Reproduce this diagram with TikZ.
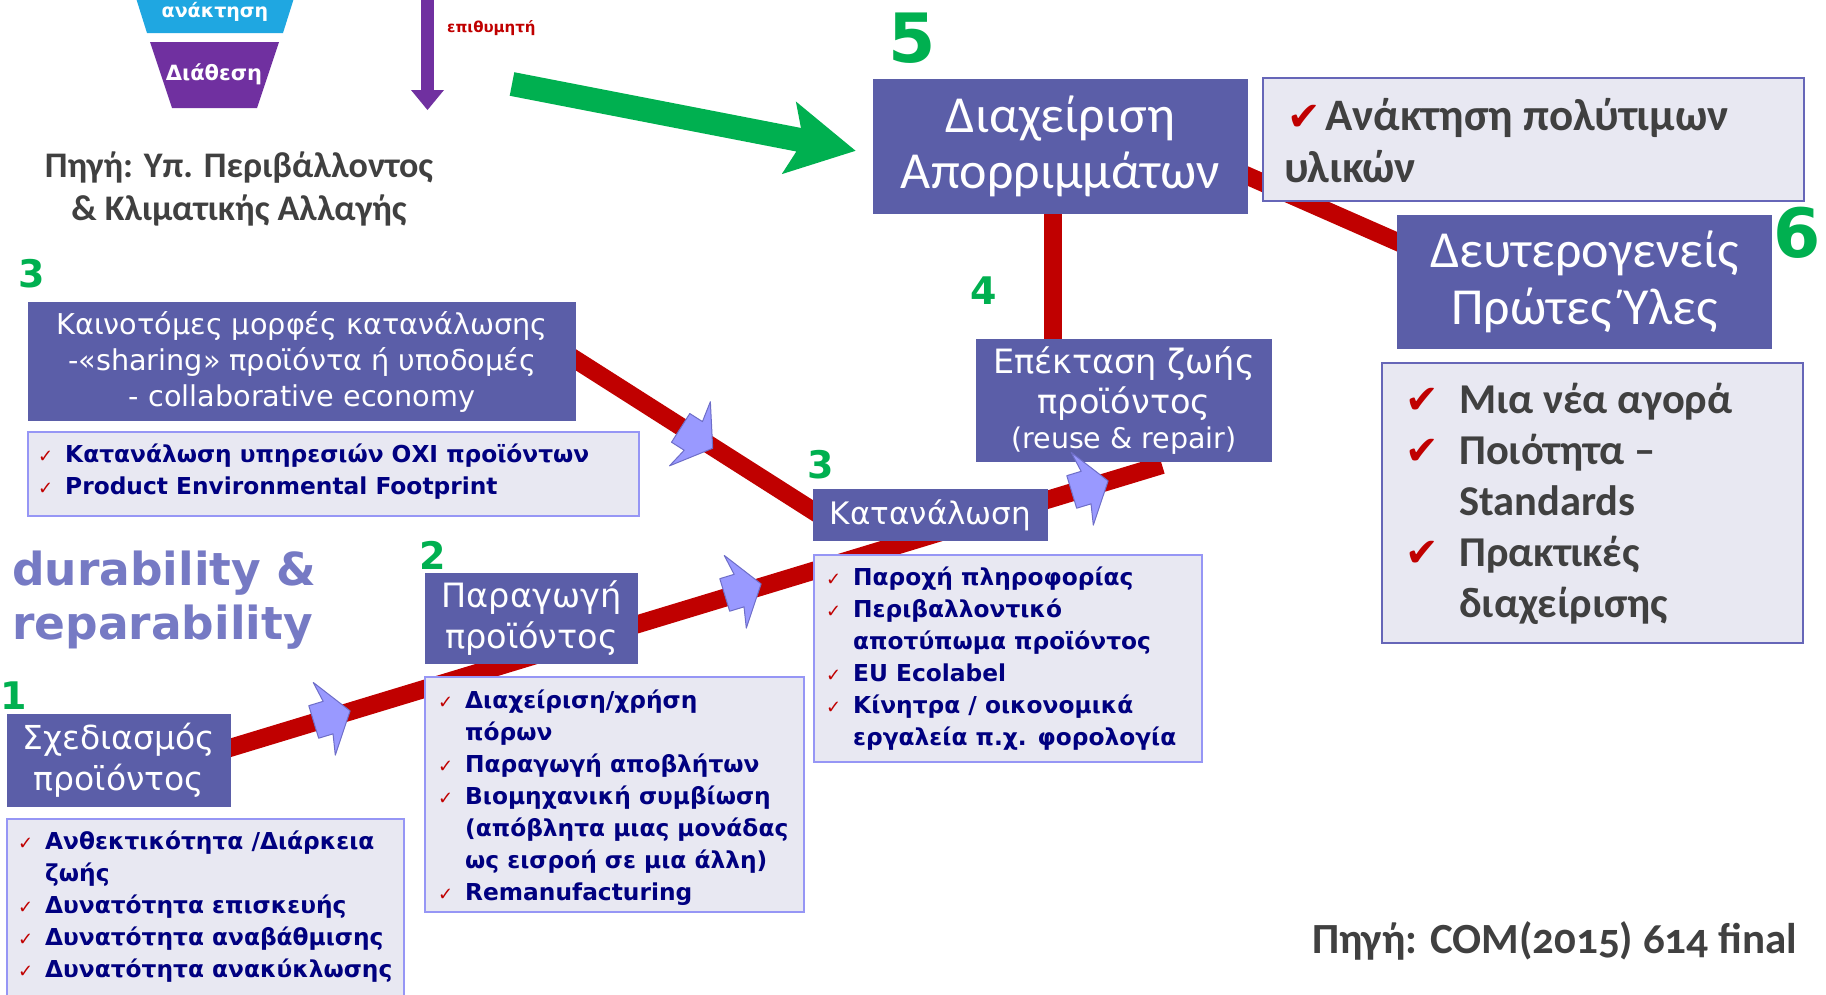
\documentclass[tikz,border=0pt]{standalone}
\usepackage{fontspec}
\setmainfont{Carlito}
\newfontfamily\csf{DejaVu Sans}
\newfontfamily\symf{DejaVu Sans}
\newfontfamily\oldf[Numbers=OldStyle]{Carlito}
\usetikzlibrary{backgrounds}
\definecolor{boxblue}{RGB}{91,94,168}
\definecolor{lav}{RGB}{232,232,242}
\definecolor{lavedge}{RGB}{150,150,245}
\definecolor{lavedgeb}{RGB}{102,102,184}
\definecolor{navy}{RGB}{0,0,128}
\definecolor{ckred}{RGB}{192,0,0}
\definecolor{lred}{RGB}{192,0,0}
\definecolor{grn}{RGB}{0,176,80}
\definecolor{peri}{RGB}{153,153,255}
\definecolor{periedge}{RGB}{110,110,200}
\definecolor{dgray}{RGB}{64,64,64}
\definecolor{durc}{RGB}{118,122,196}
\definecolor{skyb}{RGB}{31,167,225}
\definecolor{purp}{RGB}{112,48,160}
\newcommand{\lsa}{\rule[-9pt]{0pt}{32pt}}
\newcommand{\ckm}{\lsa\makebox[27pt][l]{\textcolor{ckred}{\symf\mdseries\fontsize{18}{18}\selectfont ✓}}}
\newcommand{\lind}{\lsa\hspace*{27pt}}
\newcommand{\rsb}{\rule[-15pt]{0pt}{51pt}}
\newcommand{\ckb}{\rsb\makebox[54pt][l]{\textcolor{ckred}{\symf\fontsize{40}{40}\selectfont ✔}}}
\newcommand{\rind}{\rsb\hspace*{54pt}}
\tikzset{
  sbox/.style={fill=boxblue, draw=none, text=white, align=center, inner sep=0pt},
  lbox/.style={fill=lav, draw=lavedge, line width=1.5pt, inner sep=0pt},
  lboxb/.style={fill=lav, draw=lavedgeb, line width=2pt, inner sep=0pt},
  redline/.style={draw=lred, line width=18pt},
  num/.style={text=grn, font=\csf\bfseries\fontsize{38}{38}\selectfont, inner sep=0pt},
  bignum/.style={text=grn, font=\csf\bfseries\fontsize{68}{68}\selectfont, inner sep=0pt},
  ltext/.style={text=navy, font=\csf\bfseries\fontsize{23.3}{32}\selectfont, align=left, inner sep=0pt, anchor=north west},
  rtext/.style={text=dgray, font=\bfseries\fontsize{42.5}{51}\selectfont, align=left, inner sep=0pt, anchor=north west},
  barrow/.pic={\filldraw[fill=peri, draw=periedge, line width=1pt, line join=round]
     (-17,-17) -- (-2,-17) -- (-6,-38) -- (21,0) -- (-6,38) -- (-2,17) -- (-17,17) -- cycle;}
}
\begin{document}
\begin{tikzpicture}[x=1pt,y=-1pt]
\useasboundingbox (0,0) rectangle (1826,994);
% top-left hierarchy fragment
\fill[skyb] (136,-2) -- (294,-2) -- (283,33) -- (147,33) -- cycle;
\node[text=white, font=\csf\bfseries\fontsize{19}{19}\selectfont, inner sep=0pt] (tAn) at (215,12) {ανάκτηση};
\fill[purp] (150,42) -- (279,42) -- (257,108) -- (172,108) -- cycle;
\node[text=white, font=\csf\bfseries\fontsize{21}{21}\selectfont, inner sep=0pt] (tDi) at (214,74) {Διάθεση};
\fill[purp] (421,-2) rectangle (434,92);
\fill[purp] (411,90) -- (444,90) -- (427.5,110) -- cycle;
\node[text=ckred, font=\csf\bfseries\fontsize{15}{15}\selectfont, anchor=base west, inner sep=0pt] (tEp) at (447,32) {επιθυμητή};
\node[text=dgray, font=\bfseries\fontsize{36}{43}\selectfont, align=center, inner sep=0pt] (src1) at (239,189) {Πηγή: Υπ. Περιβάλλοντος\\\& Κλιματικής Αλλαγής};
% green arrow
\fill[grn, shift={(512,84)}, rotate=-11] (0,-12) -- (292,-12) -- (282,-37) -- (350,0) -- (282,37) -- (292,12) -- (0,12) -- cycle;
% boxes
\node[sbox, minimum width=375pt, minimum height=135pt, font=\fontsize{52}{56}\selectfont] (diax) at (1060.5,146.5) {Διαχείριση\\Απορριμμάτων};
\node[lboxb, minimum width=541pt, minimum height=123pt] (anak) at (1533.5,139.5) {};
\node[rtext, font=\bfseries\fontsize{45}{49}\selectfont] (anakT) at (1284,94) {\rsb\makebox[41pt][c]{\textcolor{ckred}{\symf\fontsize{40}{40}\selectfont ✔}}Ανάκτηση πολύτιμων\\\rsb υλικών};
\node[sbox, minimum width=375pt, minimum height=134pt, font=\fontsize{52}{57}\selectfont] (deut) at (1584.5,282) {Δευτερογενείς\\Πρώτες Ύλες};
\node[sbox, minimum width=296pt, minimum height=123pt, font=\csf\fontsize{33.5}{40}\selectfont] (epek) at (1124,400.5) {Επέκταση ζωής\\προϊόντος\\[-5pt]{\fontsize{28.5}{34}\selectfont (reuse \& repair)}};
\node[sbox, minimum width=548pt, minimum height=119pt, font=\csf\fontsize{28.7}{36}\selectfont] (kain) at (302,361.5) {Καινοτόμες μορφές κατανάλωσης\\-«sharing» προϊόντα ή υποδομές\\- collaborative economy};
\node[lbox, minimum width=611pt, minimum height=84pt] (kainL) at (333.5,474) {};
\node[ltext] (kainT) at (38,439) {\ckm Κατανάλωση υπηρεσιών ΟΧΙ προϊόντων\\\ckm Product Environmental Footprint};
\node[sbox, minimum width=235pt, minimum height=52pt, font=\csf\fontsize{31}{31}\selectfont] (katan) at (930.5,515) {Κατανάλωση};
\node[lbox, minimum width=388pt, minimum height=207pt] (katanL) at (1008,658.5) {};
\node[ltext] (katanT) at (826,562) {\ckm Παροχή πληροφορίας\\\ckm Περιβαλλοντικό\\\lind αποτύπωμα προϊόντος\\\ckm EU Ecolabel\\\ckm Κίνητρα / οικονομικά\\\lind εργαλεία π.χ. φορολογία};
\node[sbox, minimum width=213pt, minimum height=91pt, font=\csf\fontsize{33.5}{41}\selectfont] (parag) at (531.5,618.5) {Παραγωγή\\προϊόντος};
\node[lbox, minimum width=379pt, minimum height=235pt] (paragL) at (614.5,794.5) {};
\node[ltext] (paragT) at (438,685) {\ckm Διαχείριση/χρήση\\\lind πόρων\\\ckm Παραγωγή αποβλήτων\\\ckm Βιομηχανική συμβίωση\\\lind (απόβλητα μιας μονάδας\\\lind ως εισροή σε μια άλλη)\\\ckm Remanufacturing};
\node[sbox, minimum width=224pt, minimum height=93pt, font=\csf\fontsize{33}{41}\selectfont] (sxed) at (119,760.5) {Σχεδιασμός\\προϊόντος};
\node[lbox, minimum width=397pt, minimum height=200pt] (sxedL) at (205.5,919) {};
\node[ltext] (sxedT) at (18,826) {\ckm Ανθεκτικότητα /Διάρκεια\\\lind ζωής\\\ckm Δυνατότητα επισκευής\\\ckm Δυνατότητα αναβάθμισης\\\ckm Δυνατότητα ανακύκλωσης};
\node[lboxb, minimum width=421pt, minimum height=280pt] (rightL) at (1592.5,503) {};
\node[rtext] (rightT) at (1405,377) {\ckb Μια νέα αγορά\\\ckb Ποιότητα –\\\rind Standards\\\ckb Πρακτικές\\\rind διαχείρισης};
% numbers
\node[bignum] (n5) at (912,38) {5};
\node[bignum] (n6) at (1797,233) {6};
\node[num] (n3a) at (32,274) {3};
\node[num] (n3b) at (821,465) {3};
\node[num] (n4) at (984,291) {4};
\node[num] (n2) at (433,555) {2};
\node[num] (n1) at (14,696) {1};
% durability
\node[text=durc, font=\csf\bfseries\fontsize{45.5}{54}\selectfont, align=left, anchor=west, inner sep=0pt] (dur) at (12,600) {durability \&\\reparability};
% source
\node[text=dgray, font=\oldf\bfseries\fontsize{43}{43}\selectfont, anchor=base east, inner sep=0pt] (src2) at (1797,953) {Πηγή: COM(2015) 614 final};
% red connectors behind
\coordinate (m1) at (200,757);
\coordinate (m2) at (1162,465);
\coordinate (k1) at (540,337);
\coordinate (k2) at (840,528);
\coordinate (d1) at (1150,133);
\coordinate (d2) at (1500,287);
\begin{scope}[on background layer]
\fill[white] (0,0) rectangle (1826,994);
\draw[redline] (m1) -- (m2);
\draw[redline] (k1) -- (k2);
\draw[redline] (d1) -- (d2);
\draw[redline] ([xshift=-7.5pt]diax.center) -- ([xshift=-7.5pt]diax.center |- epek.center);
\end{scope}
% blue arrows
\pic[rotate=16.9] at (330,717) {barrow};
\pic[rotate=16.9] at (741,590) {barrow};
\pic[rotate=16.9] at (1088,487) {barrow};
\pic[rotate=-32.5] at (695,437) {barrow};
\end{tikzpicture}
\end{document}
